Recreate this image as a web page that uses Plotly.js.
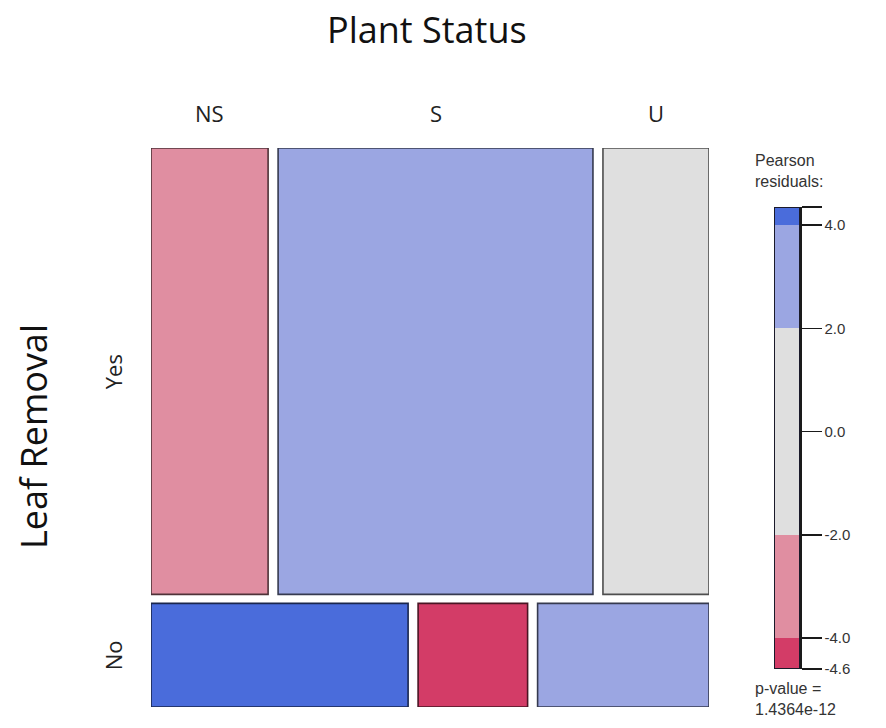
<!DOCTYPE html>
<html>
<head>
<meta charset="utf-8">
<script src="https://cdn.plot.ly/plotly-3.0.1.min.js"></script>
<style>
  html, body { margin: 0; padding: 0; background: #fff; }
  #chart { width: 886px; height: 728px; }
</style>
</head>
<body>
<div id="chart"></div>
<script>
// Mosaic of Leaf Removal (rows) by Plant Status (tiles), shaded by Pearson residuals
const statusLevels = ['NS', 'S', 'U'];
const removalLevels = ['Yes', 'No'];
const countsYes = [106, 285, 96];
const countsNo = [54, 23, 36];
const residualBreaks = [-4, -2, 2, 4];
const shadeColors = ['#d33c67', '#e08ea1', '#dfdfdf', '#9ba6e2', '#4a6cdb'];
const legendTickValues = [4, 2, 0, -2, -4];
const pValueText = '1.4364e-12';

const W = 886, H = 728;
const table = [countsYes, countsNo];
const rowTotals = table.map(r => r.reduce((a, b) => a + b, 0));
const colTotals = statusLevels.map((_, j) => table.reduce((s, r) => s + r[j], 0));
const N = rowTotals.reduce((a, b) => a + b, 0);

// Pearson residuals (obs - exp) / sqrt(exp)
const residuals = table.map((r, i) => r.map((o, j) => {
  const e = rowTotals[i] * colTotals[j] / N;
  return (o - e) / Math.sqrt(e);
}));
const flat = residuals.flat();
const rMin = Math.min(...flat), rMax = Math.max(...flat);

function shade(v) {
  let k = 0;
  while (k < residualBreaks.length && v > residualBreaks[k]) k++;
  return shadeColors[k];
}
function darken(hex, f) {
  const n = parseInt(hex.slice(1), 16);
  const r = Math.round(((n >> 16) & 255) * f);
  const g = Math.round(((n >> 8) & 255) * f);
  const b = Math.round((n & 255) * f);
  return `rgb(${r},${g},${b})`;
}

const labelFont = { family: 'Open Sans', size: 22, color: '#222' };
const titleFont = { family: 'Open Sans', size: 36, color: '#111' };
const legendFont = { family: 'Liberation Sans', size: 16, color: '#333' };

// mosaic geometry in unit data coordinates
const gapX = 10 / 558, gapY = 9 / 559;
const usableY = 1 - gapY * (removalLevels.length - 1);
const usableX = 1 - gapX * (statusLevels.length - 1);

const shapes = [];
const annotations = [];
let yTop = 1;
removalLevels.forEach((lvl, i) => {
  const h = rowTotals[i] / N * usableY;
  const y1 = yTop, y0 = yTop - h;
  let x = 0;
  table[i].forEach((c, j) => {
    const w = c / rowTotals[i] * usableX;
    const col = shade(residuals[i][j]);
    shapes.push({
      type: 'rect', xref: 'x', yref: 'y', x0: x, x1: x + w, y0: y0, y1: y1,
      fillcolor: col, line: { color: darken(col, 0.35), width: 1.6 }, layer: 'above'
    });
    if (i === 0) {
      annotations.push({
        xref: 'x', yref: 'paper', x: x + w / 2, y: 1 - 113 / H, text: statusLevels[j],
        xanchor: 'center', yanchor: 'middle', showarrow: false, font: labelFont
      });
    }
    x += w + gapX;
  });
  annotations.push({
    xref: 'paper', yref: 'y', x: 113 / W, y: (y0 + y1) / 2, text: lvl, textangle: -90,
    xanchor: 'center', yanchor: 'middle', showarrow: false, font: labelFont
  });
  yTop = y0 - gapY;
});

// residual legend bar
const segEdges = [rMin, ...residualBreaks, rMax];
const legendTraces = shadeColors.map((c, k) => ({
  type: 'bar', x: [0.5], width: [1], base: [segEdges[k]], y: [segEdges[k + 1] - segEdges[k]],
  marker: { color: c, line: { width: 0 } }, xaxis: 'x2', yaxis: 'y2',
  hoverinfo: 'skip', showlegend: false
}));
shapes.push({
  type: 'rect', xref: 'x2', yref: 'y2', x0: 0, x1: 1, y0: rMin, y1: rMax,
  line: { color: '#1a1a2a', width: 2 }, layer: 'above'
});

const tickVals = [rMax, ...legendTickValues, rMin];
const tickText = ['', ...legendTickValues.map(v => v.toFixed(1)), rMin.toFixed(1)];

annotations.push(
  { xref: 'paper', yref: 'paper', x: 427 / W, y: 1 - 30 / H, text: 'Plant Status', showarrow: false,
    xanchor: 'center', yanchor: 'middle', font: titleFont },
  { xref: 'paper', yref: 'paper', x: 33 / W, y: 1 - 437 / H, text: 'Leaf Removal', textangle: -90, showarrow: false,
    xanchor: 'center', yanchor: 'middle', font: titleFont },
  { xref: 'paper', yref: 'paper', x: 753 / W, y: 1 - 171 / H, xanchor: 'left', yanchor: 'middle', align: 'left',
    text: 'Pearson<br>residuals:', showarrow: false, font: legendFont },
  { xref: 'paper', yref: 'paper', x: 753 / W, y: 1 - 699 / H, xanchor: 'left', yanchor: 'middle', align: 'left',
    text: 'p-value =<br>' + pValueText, showarrow: false, font: legendFont }
);

const layout = {
  width: W, height: H,
  margin: { l: 0, r: 0, t: 0, b: 0 },
  paper_bgcolor: '#fff', plot_bgcolor: 'rgba(0,0,0,0)',
  barmode: 'overlay', bargap: 0,
  showlegend: false,
  xaxis: { domain: [151 / W, 709 / W], range: [0, 1], visible: false, fixedrange: true },
  yaxis: { domain: [1 - 707 / H, 1 - 148 / H], range: [0, 1], visible: false, fixedrange: true },
  xaxis2: { domain: [774 / W, 800 / W], range: [0, 1], visible: false, anchor: 'y2' },
  yaxis2: {
    domain: [1 - 669 / H, 1 - 207 / H], range: [rMin, rMax], anchor: 'x2', side: 'right',
    tickvals: tickVals, ticktext: tickText, ticks: 'outside', ticklen: 20, tickwidth: 1.5,
    tickcolor: '#1a1a1a', showline: true, linecolor: '#1a1a1a', linewidth: 1.5,
    showgrid: false, zeroline: false,
    tickfont: { family: 'Liberation Sans', size: 15, color: '#333' }
  },
  shapes: shapes,
  annotations: annotations
};

Plotly.newPlot('chart', legendTraces, layout, { displayModeBar: false, staticPlot: true });
</script>
</body>
</html>
